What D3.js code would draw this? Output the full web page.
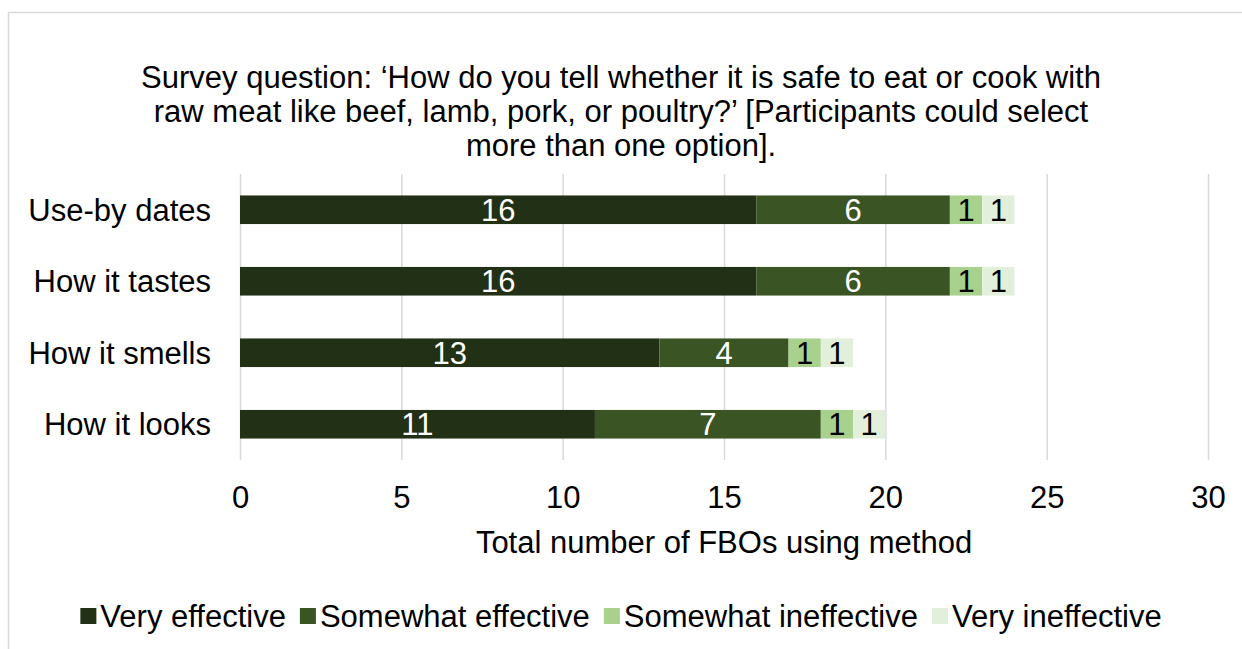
<!DOCTYPE html>
<html>
<head>
<meta charset="utf-8">
<script src="https://cdn.jsdelivr.net/npm/d3@7"></script>
<style>
  html, body { margin: 0; padding: 0; background: #fff; }
  svg { display: block; font-family: "Liberation Sans", Arial, sans-serif; }
</style>
</head>
<body>
<svg id="chart" width="1242" height="649"></svg>
<script>
// Methods asked about in the survey
const categories = ["Use-by dates", "How it tastes", "How it smells", "How it looks"];

// Number of FBOs per perceived effectiveness
const veryEffective = [16, 16, 13, 11];
const somewhatEffective = [6, 6, 4, 7];
const somewhatIneffective = [1, 1, 1, 1];
const veryIneffective = [1, 1, 1, 1];

const seriesNames = ["Very effective", "Somewhat effective", "Somewhat ineffective", "Very ineffective"];
const seriesColors = ["#223015", "#3a5424", "#a9d18e", "#e2efda"];
const labelColors = ["#ffffff", "#ffffff", "#000000", "#000000"];

const xTicks = [0, 5, 10, 15, 20, 25, 30];

const titleLines = [
  "Survey question: \u2018How do you tell whether it is safe to eat or cook with",
  "raw meat like beef, lamb, pork, or poultry?\u2019 [Participants could select",
  "more than one option]."
];
const xTitle = "Total number of FBOs using method";

const rows = categories.map((c, i) => ({
  category: c,
  "Very effective": veryEffective[i],
  "Somewhat effective": somewhatEffective[i],
  "Somewhat ineffective": somewhatIneffective[i],
  "Very ineffective": veryIneffective[i]
}));

const svg = d3.select("#chart");
const FONT = 31;
const CENTER = 621;

// outer frame
svg.append("rect")
  .attr("x", 8.5).attr("y", 12.5)
  .attr("width", 1400).attr("height", 800)
  .attr("fill", "#fff").attr("stroke", "#d9d9d9").attr("stroke-width", 1.5);

// title
const title = svg.append("text")
  .attr("text-anchor", "middle")
  .attr("font-size", FONT)
  .attr("fill", "#000");
titleLines.forEach((t, i) => {
  title.append("tspan").attr("x", CENTER).attr("y", 88 + i * 34).text(t);
});

const x = d3.scaleLinear().domain([0, 30]).range([240, 1208]);
const y = d3.scaleBand().domain(categories).range([174, 460])
  .paddingInner(0.6).paddingOuter(0.3);

// vertical gridlines
const grid = svg.append("g")
  .attr("transform", "translate(0,460)")
  .call(d3.axisBottom(x).tickValues(xTicks).tickSize(-(460 - 174)).tickFormat(""));
grid.select(".domain").remove();
grid.selectAll("line").attr("stroke", "#d9d9d9").attr("stroke-width", 1.5);

// x tick labels
const xAxis = svg.append("g")
  .attr("transform", "translate(0,480)")
  .call(d3.axisBottom(x).tickValues(xTicks).tickSize(0).tickPadding(0));
xAxis.select(".domain").remove();
xAxis.selectAll("text")
  .attr("font-size", FONT).attr("font-family", "Liberation Sans, Arial, sans-serif")
  .attr("fill", "#000").attr("dy", null).attr("y", 28);

// x axis title
svg.append("text")
  .attr("x", 724).attr("y", 553)
  .attr("text-anchor", "middle")
  .attr("font-size", FONT).attr("fill", "#000")
  .text(xTitle);

// category labels
const yAxis = svg.append("g")
  .attr("transform", "translate(240,0)")
  .call(d3.axisLeft(y).tickSize(0).tickPadding(29));
yAxis.select(".domain").remove();
yAxis.selectAll("text")
  .attr("font-size", FONT).attr("font-family", "Liberation Sans, Arial, sans-serif")
  .attr("fill", "#000").attr("dy", "0.35em");

// stacked bars
const stack = d3.stack().keys(seriesNames)(rows);
const layers = svg.append("g").selectAll("g")
  .data(stack).join("g")
  .attr("fill", (d, i) => seriesColors[i]);

layers.selectAll("rect")
  .data(d => d)
  .join("rect")
  .attr("x", d => x(d[0]))
  .attr("y", d => y(d.data.category))
  .attr("width", d => x(d[1]) - x(d[0]))
  .attr("height", y.bandwidth());

// value labels inside segments
stack.forEach((layer, si) => {
  svg.append("g").selectAll("text")
    .data(layer).join("text")
    .attr("x", d => (x(d[0]) + x(d[1])) / 2)
    .attr("y", d => y(d.data.category) + y.bandwidth() / 2)
    .attr("dy", "0.35em")
    .attr("text-anchor", "middle")
    .attr("font-size", FONT)
    .attr("fill", labelColors[si])
    .text(d => d[1] - d[0]);
});

// legend, centred as a row
const legend = svg.append("g");
const items = legend.selectAll("g").data(seriesNames).join("g");
items.append("rect")
  .attr("width", 16).attr("height", 16)
  .attr("y", 608)
  .attr("fill", (d, i) => seriesColors[i]);
items.append("text")
  .attr("x", 20).attr("y", 627)
  .attr("font-size", FONT).attr("fill", "#000")
  .text(d => d);
let cursor = 0;
const offsets = [];
items.each(function () {
  const w = this.querySelector("text").getComputedTextLength() + 20;
  offsets.push(cursor);
  cursor += w + 14;
});
const total = cursor - 14;
const start = CENTER - total / 2;
items.attr("transform", (d, i) => `translate(${start + offsets[i]},0)`);
</script>
</body>
</html>
